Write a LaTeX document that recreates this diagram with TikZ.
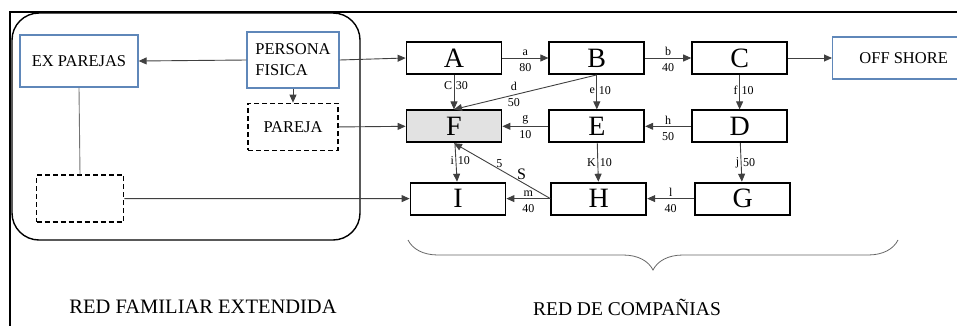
\documentclass[tikz,border=0pt]{standalone}
\usepackage{fontspec}
\setmainfont{Liberation Serif}
\usetikzlibrary{positioning,arrows.meta,decorations.pathreplacing}
\definecolor{boxblue}{RGB}{95,135,185}
\definecolor{fgray}{RGB}{226,226,226}

\begin{document}
\begin{tikzpicture}[x=1pt, y=-1pt,
        company/.style={rectangle, draw=black, line width=1.8pt, minimum width=95pt, minimum height=32pt, inner sep=0pt, font=\fontsize{28}{28}\selectfont},
        person/.style={rectangle, draw=boxblue, line width=1.3pt, inner sep=0pt, align=left, font=\fontsize{16.5}{21}\selectfont},
        ghost/.style={rectangle, draw=black, line width=1.6pt, dash pattern=on 5pt off 3pt, inner sep=0pt, font=\fontsize{16.5}{21}\selectfont},
        famframe/.style={rectangle, draw=black, line width=1.4pt, rounded corners=27pt},
        arrow/.style={-{Triangle[length=8pt,width=7pt]}, draw=black!75, line width=0.9pt},
        link/.style={draw=black!55, line width=0.9pt},
        lbl/.style={font=\fontsize{12}{12}\selectfont, inner sep=1.5pt},
        title/.style={font=\fontsize{20.5}{20.5}\selectfont},
      ]
      \useasboundingbox (0,0) rectangle (957,325);
      \draw [line width=1.8pt] (990,12) -- (10,12) -- (10,350);
      % familia
      \node [famframe, minimum width=348pt, minimum height=227pt] (family) at (186,126.5) {};
      \node [person, minimum width=92pt, minimum height=56pt] (persona) at (293,60) {PERSONA\\FISICA};
      \node [person, minimum width=118pt, minimum height=52pt] (ex) at (79,61) {EX PAREJAS};
      \node [ghost, minimum width=90pt, minimum height=47pt, below=14pt of persona] (pareja) {PAREJA};
      \node [ghost, minimum width=87pt, minimum height=47pt] (ghostbox) at (80,198.6) {};
      % companias
      \node [company] (A) at (454,58) {A};
      \node [company, right=46pt of A] (B) {B};
      \node [company, right=46pt of B] (C) {C};
      \node [company, fill=fgray, below=34.5pt of A] (F) {F};
      \node [company, below=34.5pt of B] (E) {E};
      \node [company, below=34.5pt of C] (D) {D};
      \node [company, below=38.5pt of F, xshift=4pt] (I) {I};
      \node [company, below=38.5pt of E, xshift=2pt] (H) {H};
      \node [company, below=38.5pt of D, xshift=3pt] (G) {G};
      \node [person, minimum width=142pt, minimum height=42pt, right=44pt of C] (offshore) {OFF SHORE};
      \node [title] (famlabel) at (203,307) {RED FAMILIAR EXTENDIDA};
      \node [title, font=\fontsize{19.5}{20.5}\selectfont] (complabel) at (627,307) {RED DE COMPAÑIAS};
      \coordinate (braceL) at (408,240);
      \coordinate (braceR) at (898,240);
      \draw [draw=black!60, line width=0.8pt, decorate, decoration={brace, mirror, amplitude=30pt}] (braceL) -- (braceR);
      % conexiones familia
      \draw [arrow] (persona.west) -- (ex.east);
      \draw [arrow] (persona.south) -- (pareja.north);
      \draw [link] (ex.south) -- (ghostbox.north);
      \draw [arrow] (persona.east) -- (A.west);
      \draw [arrow] (pareja.east) -- (F.west);
      \draw [arrow] (ghostbox.east) -- (I.west);
      % conexiones companias
      \draw [arrow] (A) -- node [lbl, above] {a} node [lbl, below=4pt] {80} (B);
      \draw [arrow] (B) -- node [lbl, above] {b} node [lbl, below=4pt] {40} (C);
      \draw [arrow] (C) -- (offshore);
      \draw [arrow] (A) -- node [lbl, left, pos=0.3] {C} node [lbl, right, pos=0.3] {30} (F);
      \draw [arrow] (B.south) -- node [lbl, above=2pt, pos=0.58] {d} node [lbl, below=2pt, pos=0.58] {50} (F.north);
      \draw [arrow] (B) -- node [lbl, left, pos=0.45] {e} node [lbl, right, pos=0.45] {10} (E);
      \draw [arrow] (C) -- node [lbl, left, pos=0.45] {f} node [lbl, right, pos=0.45] {10} (D);
      \draw [arrow] (E) -- node [lbl, above] {g} node [lbl, below=2pt] {10} (F);
      \draw [arrow] (D) -- node [lbl, above] {h} node [lbl, below=4pt] {50} (E);
      \draw [arrow] (F) -- node [lbl, left, pos=0.45] {i} node [lbl, right, pos=0.45] {10} (I);
      \draw [arrow] (E) -- node [lbl, left, pos=0.5] {K} node [lbl, right, pos=0.5] {10} (H);
      \draw [arrow] (D) -- node [lbl, left, pos=0.5] {j} node [lbl, right, pos=0.5] {50} (G);
      \draw [arrow] (H) -- node [lbl, above] {m} node [lbl, below=4pt] {40} (I);
      \draw [arrow] (G) -- node [lbl, above] {l} node [lbl, below=4pt] {40} (H);
      \draw [arrow] (H.west) -- node [lbl, above, pos=0.53] {5} node [above, pos=0.3, font=\fontsize{16}{16}\selectfont, inner sep=2pt] {S} (F.south);
    \end{tikzpicture}
\end{document}
